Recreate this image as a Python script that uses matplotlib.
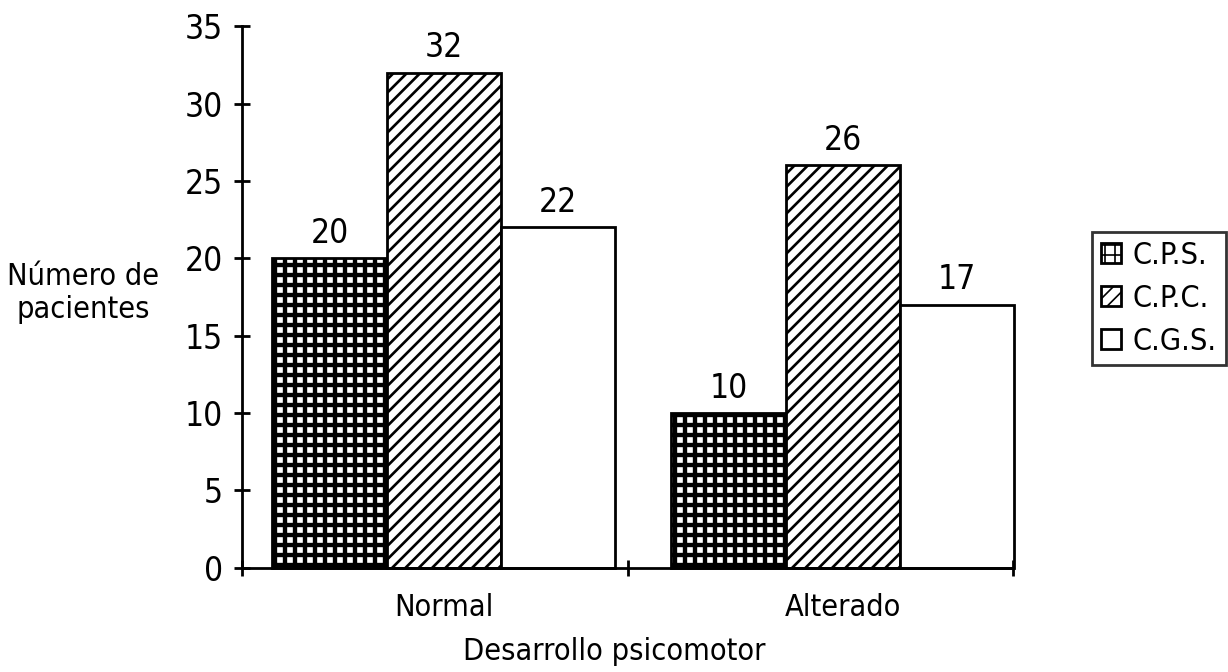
import matplotlib
matplotlib.use("Agg")
import matplotlib.pyplot as plt
import numpy as np

categories = ["Normal", "Alterado"]
series_names = ["C.P.S.", "C.P.C.", "C.G.S."]
cps = [20, 10]
cpc = [32, 26]
cgs = [22, 17]
y_ticks = [0, 5, 10, 15, 20, 25, 30, 35]

DPI = 120
S = 100.0 / DPI  # sizes below were tuned in px-at-100dpi units

plt.rcParams['font.family'] = ['DejaVu Sans']
plt.rcParams['font.stretch'] = 'condensed'

fig = plt.figure(figsize=(1228 / DPI, 672 / DPI), dpi=DPI)
ax = fig.add_axes([0.197, 0.155, 0.628, 0.806])

centers = np.array([0.523, 1.558])
w = 0.296
styles = [dict(facecolor="white", hatch="++", edgecolor="black"),
          dict(facecolor="white", hatch="///", edgecolor="black"),
          dict(facecolor="white", hatch="", edgecolor="black")]
hatch_lw = [2.6, 1.6, 1.0]
for i, vals in enumerate([cps, cpc, cgs]):
    with plt.rc_context({'hatch.linewidth': hatch_lw[i]}):
        b = ax.bar(centers + (i - 1) * w, vals, width=w, linewidth=2.0 * S,
                   label=series_names[i], clip_on=False, **styles[i])
    for rect, v in zip(b, vals):
        ax.text(rect.get_x() + rect.get_width() / 2, v + 1.0, str(v),
                ha="center", va="baseline", fontsize=24 * S)

ax.set_xlim(0, 2)
ax.set_ylim(0, 35)
ax.set_yticks(y_ticks)
ax.set_xticks([0, 1, 2])
ax.set_xticklabels([])
ax.tick_params(axis="both", direction="inout", length=11 * S, width=2.0 * S,
               labelsize=24 * S)
ax.tick_params(axis="y", pad=8 * S)
for s in ["top", "right"]:
    ax.spines[s].set_visible(False)
for s in ["left", "bottom"]:
    ax.spines[s].set_linewidth(2.0 * S)

for c, lab in zip(centers, categories):
    ax.text(c, -2.55, lab, ha="center", va="center", fontsize=22 * S)
fig.text(0.5, 0.03, "Desarrollo psicomotor", ha="center", va="center",
         fontsize=22 * S)
fig.text(0.068, 0.564, "Número de\npacientes", ha="center", va="center",
         fontsize=22 * S, linespacing=1.2)

leg = fig.legend(loc="upper left", bbox_to_anchor=(0.889, 0.655), fontsize=22 * S,
                 frameon=True, fancybox=False, edgecolor="black",
                 handlelength=0.65, handleheight=0.65, handletextpad=0.4,
                 borderpad=0.3, labelspacing=0.45, borderaxespad=0)
leg.get_frame().set_linewidth(2.0 * S)

fig.savefig("out.png", dpi=DPI)
